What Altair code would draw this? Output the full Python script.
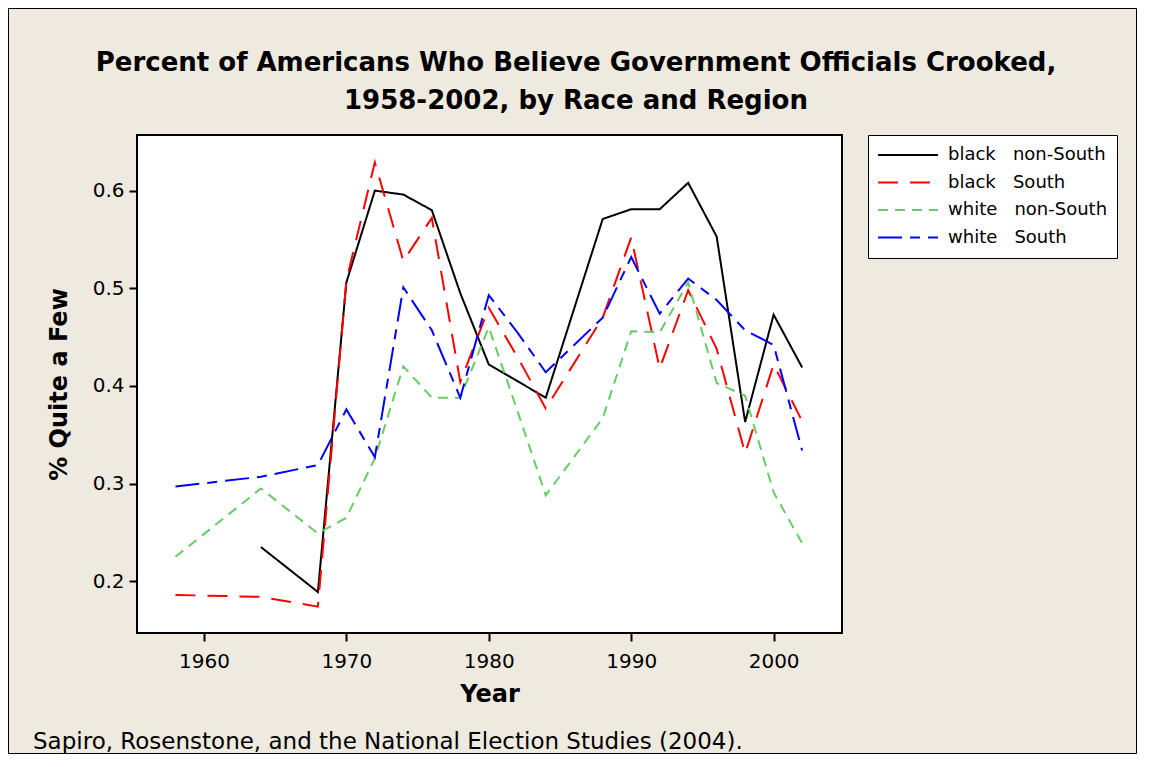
import altair as alt
import pandas as pd

years = [1958, 1964, 1968, 1970, 1972, 1974, 1976, 1978, 1980, 1982, 1984,
         1988, 1990, 1992, 1994, 1996, 1998, 2000, 2002]
black_nonsouth = [None, 0.235, 0.189, 0.506, 0.600, 0.596, 0.580, 0.495, 0.422, 0.405, 0.388,
                  0.571, 0.581, 0.581, 0.608, 0.553, 0.363, 0.473, 0.419]
black_south = [0.186, 0.184, 0.174, 0.508, 0.629, 0.528, 0.572, 0.404, 0.480, 0.430, 0.377,
               0.470, 0.552, 0.418, 0.498, 0.438, 0.331, 0.422, 0.364]
white_nonsouth = [0.225, 0.295, 0.249, 0.265, 0.326, 0.420, 0.388, 0.388, 0.460, 0.375, 0.288,
                  0.367, 0.456, 0.455, 0.506, 0.403, 0.390, 0.291, 0.239]
white_south = [0.297, 0.307, 0.319, 0.376, 0.327, 0.501, 0.457, 0.388, 0.493, 0.455, 0.414,
               0.470, 0.532, 0.474, 0.510, 0.488, 0.457, 0.442, 0.334]

NB = "\u00a0"
series_names = ["black" + NB * 3 + "non-South", "black" + NB * 3 + "South",
                "white" + NB * 3 + "non-South", "white" + NB * 3 + "South"]
series_values = [black_nonsouth, black_south, white_nonsouth, white_south]
series_colors = ["#000000", "#FF0000", "#66CC66", "#0000FF"]
series_dashes = [[1, 0], [20, 12], [10, 7], [24, 8, 10, 8]]

x_ticks = [1960, 1970, 1980, 1990, 2000]
y_ticks = [0.2, 0.3, 0.4, 0.5, 0.6]

title_lines = ["Percent of Americans Who Believe Government Officials Crooked,",
               "1958-2002, by Race and Region"]
footer = "Sapiro, Rosenstone, and the National Election Studies (2004)."

rows = []
for name, vals in zip(series_names, series_values):
    for yr, v in zip(years, vals):
        if v is not None:
            rows.append({"Year": yr, "value": v, "series": name})
df = pd.DataFrame(rows)

FONT = "DejaVu Sans"
W, H = 705, 498
PL, PT, PR, PB = 129, 127, 295, 121

legend = alt.Legend(title=None, orient="none", legendX=731, legendY=0,
                    symbolType="stroke", symbolSize=3600, symbolStrokeWidth=2,
                    labelFontSize=18, labelFont=FONT, labelColor="black",
                    labelOffset=9, padding=9, rowPadding=5.5, clipHeight=22,
                    labelExpr="datum.label + '\u00a0\u00a0'",
                    strokeColor="black", fillColor="white")

lines = alt.Chart(df).mark_line(strokeWidth=2).encode(
    x=alt.X("Year:Q",
            scale=alt.Scale(domain=[1955.3, 2004.8], nice=False, zero=False),
            axis=alt.Axis(values=x_ticks, format="d", title="Year")),
    y=alt.Y("value:Q",
            scale=alt.Scale(domain=[0.147, 0.657], nice=False, zero=False),
            axis=alt.Axis(values=y_ticks, format=".1f", title="% Quite a Few")),
    color=alt.Color("series:N",
                    scale=alt.Scale(domain=series_names, range=series_colors),
                    legend=legend),
    strokeDash=alt.StrokeDash("series:N",
                              scale=alt.Scale(domain=series_names, range=series_dashes),
                              legend=legend),
)

title_mark = alt.Chart(pd.DataFrame({"t": ["\n".join(title_lines)]})).mark_text(
    align="center", baseline="alphabetic", font=FONT, fontSize=26, fontWeight="bold",
    color="black", lineBreak="\n", lineHeight=38
).encode(text="t:N", x=alt.value(439), y=alt.value(-64))

foot = alt.Chart(pd.DataFrame({"t": [footer]})).mark_text(
    align="left", baseline="alphabetic", font=FONT, fontSize=23, color="black"
).encode(text="t:N", x=alt.value(-104), y=alt.value(614))

border = alt.Chart(pd.DataFrame({"a": [0]})).mark_rect(
    fill=None, stroke="black", strokeWidth=1
).encode(x=alt.value(-PL + 0.5), x2=alt.value(W + PR - 0.5),
         y=alt.value(-PT + 0.5), y2=alt.value(H + PB - 0.5))

chart = alt.layer(border, lines, title_mark, foot).properties(
    width=W, height=H,
    padding={"left": PL, "top": PT, "right": PR, "bottom": PB},
    autosize=alt.AutoSizeParams(type="none"),
    background="#EEEAE0",
).configure_view(
    stroke="black", strokeWidth=2, fill="white"
).configure_axis(
    labelFont=FONT, labelFontSize=20, labelColor="black",
    titleFont=FONT, titleFontSize=24, titleFontWeight="bold", titleColor="black",
    tickSize=8, tickWidth=2, tickColor="black", domain=False, grid=False,
).configure_axisX(
    labelPadding=10, titlePadding=11
).configure_axisY(
    labelPadding=5, titlePadding=21
)

chart.save("out.html", embed_options={"renderer": "svg", "actions": False})
